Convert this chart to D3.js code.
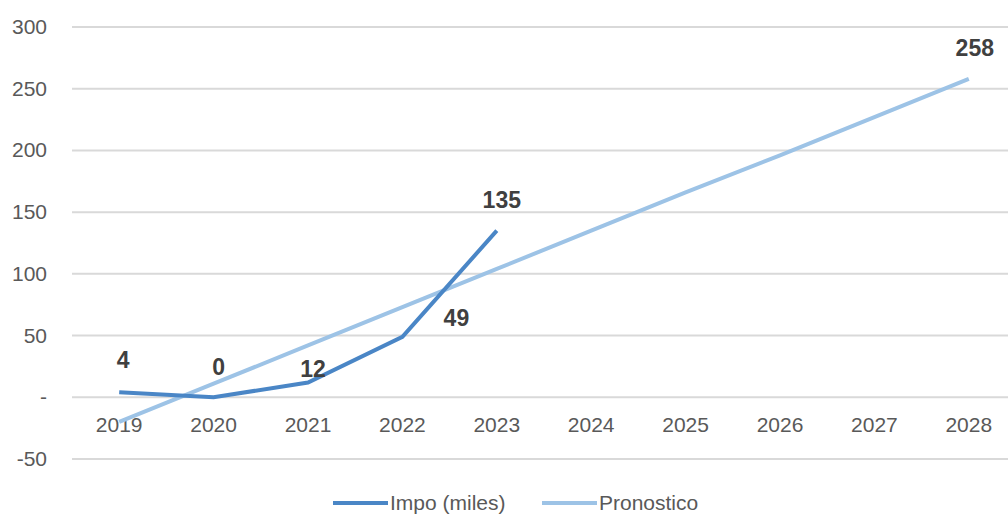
<!DOCTYPE html>
<html><head><meta charset="utf-8">
<script src="https://cdn.jsdelivr.net/npm/d3@7"></script>
<style>body{margin:0;background:#fff}svg{display:block;font-family:"Liberation Sans",Arial,sans-serif}</style>
</head><body><svg id="c" width="1008" height="519"></svg>
<script>
const years = ["2019","2020","2021","2022","2023","2024","2025","2026","2027","2028"];
const impo = [4, 0, 12, 49, 135];
const pronostico = [-20, 11, 42, 73, 104, 135, 166, 196, 227, 258];
const yTicks = [-50, 0, 50, 100, 150, 200, 250, 300];
const impoLabels = ["4", "0", "12", "49", "135"];
const seriesNames = ["Impo (miles)", "Pronostico"];

const svg = d3.select("#c");
const x = d3.scaleBand().domain(years).range([72, 1016]);
const y = d3.scaleLinear().domain([-50, 300]).range([459, 27]);
const cx = d => x(d) + x.bandwidth() / 2;
const darkC = "#4a86c6", lightC = "#9dc3e6";

// gridlines
svg.append("g").selectAll("line").data(yTicks).join("line")
  .attr("x1", 72).attr("x2", 1008)
  .attr("y1", d => y(d)).attr("y2", d => y(d))
  .attr("stroke", "#d9d9d9").attr("stroke-width", 2);

// y labels
svg.append("g").selectAll("text").data(yTicks).join("text")
  .attr("x", 47).attr("y", d => y(d) + 7)
  .attr("text-anchor", "end").attr("font-size", 21).attr("fill", "#595959")
  .text(d => d === 0 ? "-" : d);

// x labels
svg.append("g").selectAll("text").data(years).join("text")
  .attr("x", d => cx(d)).attr("y", y(0) + 35)
  .attr("text-anchor", "middle").attr("font-size", 21).attr("fill", "#595959")
  .text(d => d);

const line = d3.line().x(d => cx(d[0])).y(d => y(d[1]));

svg.append("path").datum(pronostico.map((v, i) => [years[i], v]))
  .attr("d", line).attr("fill", "none").attr("stroke", lightC).attr("stroke-width", 4);
svg.append("path").datum(impo.map((v, i) => [years[i], v]))
  .attr("d", line).attr("fill", "none").attr("stroke", darkC).attr("stroke-width", 4);

// data labels
const lblOff = [[4, -24], [5, -22], [5, -5], [54, -11], [5, -23]];
svg.append("g").selectAll("text").data(impo).join("text")
  .attr("x", (d, i) => cx(years[i]) + lblOff[i][0])
  .attr("y", (d, i) => y(d) + lblOff[i][1])
  .attr("text-anchor", "middle").attr("font-size", 23).attr("font-weight", "bold").attr("fill", "#404040")
  .text((d, i) => impoLabels[i]);
svg.append("text")
  .attr("x", cx("2028") + 6).attr("y", y(258) - 23)
  .attr("text-anchor", "middle").attr("font-size", 23).attr("font-weight", "bold").attr("fill", "#404040")
  .text("258");

// legend
const legend = [{name: seriesNames[0], c: darkC, x: 333}, {name: seriesNames[1], c: lightC, x: 542}];
const lg = svg.append("g").selectAll("g").data(legend).join("g");
lg.append("line").attr("x1", d => d.x).attr("x2", d => d.x + 55).attr("y1", 503).attr("y2", 503)
  .attr("stroke", d => d.c).attr("stroke-width", 4);
lg.append("text").attr("x", d => d.x + 57).attr("y", 510).attr("font-size", 21).attr("fill", "#595959")
  .text(d => d.name);
</script></body></html>
